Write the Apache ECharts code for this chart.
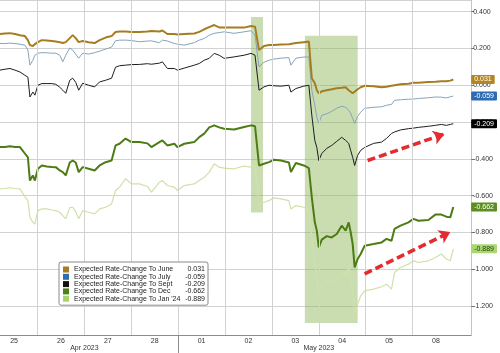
<!DOCTYPE html>
<html>
<head>
<meta charset="utf-8">
<script src="https://cdn.jsdelivr.net/npm/echarts@6/dist/echarts.min.js"></script>
<style>
html, body { margin: 0; padding: 0; background: #fff; }
#chart { width: 500px; height: 353px; }
</style>
</head>
<body>
<div id="chart"></div>
<script>
// sample times, in trading days from the start of 25 Apr
var t = [
    0.200, 0.306, 0.413, 0.519, 0.625, 0.731, 0.795, 0.838, 0.901, 0.944,
    1.008, 1.093, 1.199, 1.305, 1.390, 1.475, 1.539, 1.603, 1.688, 1.751,
    1.815, 1.879, 1.964, 2.091, 2.219, 2.325, 2.453, 2.580, 2.665, 2.750,
    2.878, 3.005, 3.175, 3.345, 3.430, 3.600, 3.664, 3.770, 3.919, 3.983,
    4.131, 4.344, 4.450, 4.556, 4.663, 4.769, 4.875, 4.981, 5.194, 5.406,
    5.555, 5.640, 5.725, 5.831, 5.938, 6.044, 6.193, 6.363, 6.405, 6.511,
    6.681, 6.788, 6.851, 6.915, 6.958, 7.000, 7.064, 7.170, 7.276, 7.383,
    7.489, 7.574, 7.638, 7.680, 7.723, 7.765, 7.829, 7.893, 7.978, 8.169,
    8.339, 8.445, 8.551, 8.615, 8.743, 8.913, 9.019, 9.125, 9.338, 9.486,
    9.614, 9.720, 9.805, 9.869
];

var june = [
    0.278, 0.281, 0.283, 0.278, 0.272, 0.267, 0.245, 0.218, 0.213, 0.223,
    0.234, 0.245, 0.243, 0.240, 0.237, 0.234, 0.229, 0.234, 0.256, 0.272,
    0.256, 0.234, 0.240, 0.234, 0.229, 0.245, 0.259, 0.267, 0.289, 0.292,
    0.292, 0.289, 0.289, 0.292, 0.294, 0.292, 0.297, 0.278, 0.278, 0.275,
    0.278, 0.281, 0.290, 0.304, 0.316, 0.327, 0.314, 0.313, 0.314, 0.313,
    0.322, 0.318, 0.191, 0.213, 0.218, 0.218, 0.221, 0.223, 0.221, 0.229,
    0.234, 0.237, 0.038, 0.011, -0.027, -0.044, -0.033, -0.027, -0.022, -0.016,
    -0.014, -0.011, -0.027, -0.033, -0.044, -0.044, -0.022, -0.011, -0.003, -0.005,
    -0.011, -0.008, -0.003, 0.000, 0.005, 0.008, 0.013, 0.014, 0.018, 0.019,
    0.022, 0.022, 0.025, 0.031
];

var july = [
    0.227, 0.226, 0.229, 0.226, 0.223, 0.218, 0.191, 0.109, 0.136, 0.163,
    0.174, 0.177, 0.176, 0.174, 0.174, 0.163, 0.127, 0.163, 0.202, 0.191,
    0.169, 0.147, 0.174, 0.169, 0.177, 0.185, 0.196, 0.207, 0.241, 0.245,
    0.245, 0.243, 0.236, 0.240, 0.241, 0.231, 0.245, 0.240, 0.227, 0.223,
    0.218, 0.231, 0.245, 0.254, 0.272, 0.282, 0.286, 0.290, 0.282, 0.290,
    0.296, 0.272, 0.100, 0.125, 0.136, 0.142, 0.147, 0.150, 0.109, 0.147,
    0.153, 0.154, -0.027, -0.109, -0.174, -0.207, -0.163, -0.155, -0.142, -0.125,
    -0.114, -0.120, -0.136, -0.153, -0.180, -0.207, -0.169, -0.147, -0.125, -0.120,
    -0.117, -0.109, -0.104, -0.082, -0.079, -0.076, -0.075, -0.072, -0.068, -0.064,
    -0.065, -0.069, -0.063, -0.059
];

var sept = [
    0.082, 0.087, 0.091, 0.082, 0.072, 0.054, 0.044, -0.064, -0.037, -0.054,
    0.000, 0.009, 0.009, 0.009, 0.005, -0.011, -0.027, -0.044, 0.027, 0.038,
    0.016, -0.027, 0.011, 0.000, -0.009, 0.018, 0.027, 0.038, 0.098, 0.106,
    0.109, 0.112, 0.113, 0.117, 0.114, 0.120, 0.127, 0.091, 0.091, 0.082,
    0.093, 0.109, 0.118, 0.136, 0.146, 0.173, 0.163, 0.146, 0.154, 0.163,
    0.173, 0.163, -0.027, -0.009, 0.000, -0.003, -0.005, 0.000, -0.037, -0.018,
    -0.005, 0.000, -0.163, -0.300, -0.338, -0.409, -0.371, -0.343, -0.327, -0.305,
    -0.283, -0.300, -0.316, -0.354, -0.392, -0.436, -0.381, -0.354, -0.338, -0.316,
    -0.309, -0.289, -0.262, -0.254, -0.243, -0.236, -0.233, -0.229, -0.223, -0.218,
    -0.213, -0.218, -0.213, -0.209
];

var dec = [
    -0.336, -0.335, -0.332, -0.335, -0.336, -0.371, -0.392, -0.518, -0.490, -0.518,
    -0.454, -0.436, -0.441, -0.444, -0.445, -0.463, -0.472, -0.490, -0.420, -0.409,
    -0.420, -0.472, -0.445, -0.454, -0.463, -0.436, -0.418, -0.409, -0.327, -0.318,
    -0.290, -0.309, -0.309, -0.316, -0.336, -0.309, -0.300, -0.327, -0.318, -0.336,
    -0.318, -0.309, -0.282, -0.263, -0.229, -0.218, -0.229, -0.236, -0.241, -0.227,
    -0.218, -0.223, -0.436, -0.427, -0.418, -0.405, -0.409, -0.420, -0.472, -0.423,
    -0.436, -0.450, -0.609, -0.745, -0.790, -0.881, -0.839, -0.820, -0.827, -0.808,
    -0.763, -0.790, -0.745, -0.799, -0.863, -0.990, -0.944, -0.917, -0.872, -0.863,
    -0.854, -0.835, -0.845, -0.781, -0.763, -0.745, -0.726, -0.736, -0.732, -0.703,
    -0.703, -0.714, -0.718, -0.662
];

var jan24 = [
    -0.563, -0.561, -0.557, -0.561, -0.563, -0.605, -0.627, -0.718, -0.745, -0.754,
    -0.681, -0.672, -0.672, -0.678, -0.681, -0.690, -0.708, -0.726, -0.665, -0.663,
    -0.687, -0.726, -0.681, -0.690, -0.699, -0.672, -0.663, -0.645, -0.572, -0.554,
    -0.508, -0.536, -0.536, -0.550, -0.581, -0.527, -0.518, -0.545, -0.554, -0.572,
    -0.545, -0.536, -0.518, -0.500, -0.472, -0.427, -0.445, -0.450, -0.454, -0.439,
    -0.445, -0.436, -0.645, -0.636, -0.627, -0.612, -0.617, -0.627, -0.672, -0.654,
    -0.663, -0.681, -0.823, -0.965, -1.035, -1.135, -1.099, -1.063, -1.072, -1.053,
    -1.008, -1.035, -0.990, -1.045, -1.117, -1.244, -1.190, -1.144, -1.117, -1.108,
    -1.095, -1.081, -1.108, -1.017, -0.990, -0.972, -0.954, -0.963, -0.954, -0.936,
    -0.917, -0.944, -0.954, -0.889
];

var seriesNames = [
    'Expected Rate-Change To June',
    'Expected Rate-Change To July',
    'Expected Rate-Change To Sept',
    'Expected Rate-Change To Dec',
    "Expected Rate-Change To Jan '24"
];
var lastValues = [0.031, -0.059, -0.209, -0.662, -0.889];

var dayCenters = [0.5, 1.5, 2.5, 3.5, 4.5, 5.5, 6.5, 7.5, 8.5, 9.5];
var dayLabels = ['25', '26', '27', '28', '01', '02', '03', '04', '05', '08'];
var dayBreaks = [1, 2, 3, 4, 5, 6, 7, 8, 9];
var monthBreaks = [4];
var monthCenters = [2, 7];
var monthLabels = ['Apr 2023', 'May 2023'];

// shaded windows: [t0, t1, top, bottom]
var shades = [
    [5.555, 5.810, 0.370, -0.692],
    [6.703, 7.829, 0.269, -1.292]
];
// red arrows: [tStart, vStart, tEnd, vEnd]
var arrows = [
    [8.041, -0.409, 9.678, -0.265],
    [7.978, -1.025, 9.805, -0.798]
];

var all = [june, july, sept, dec, jan24];
all.forEach(function (a, i) {
    if (a.length !== t.length) throw new Error('length mismatch ' + i + ': ' + a.length);
});

var lineColors = ['#a67c22', '#86a3bd', '#1e1e1e', '#4d7b14', '#cfe1a9'];
var lineWidths = [2, 1, 1, 2, 1.2];
var legendColors = ['#a87b1f', '#2d6fae', '#111111', '#4f7f17', '#a6d46b'];
var badgeColors = ['#b5851f', '#2d6bb0', '#000000', '#5b8d20', '#a9d86f'];
var badgeText = ['#fff', '#fff', '#fff', '#fff', '#2a3a10'];

var FONT = 'Liberation Sans, Arial, sans-serif';
var gridLineStyle = { color: '#d2d2d2', type: 'solid', width: 1, opacity: 1 };
var yMin = -1.357, yMax = 0.463;
var xMin = 0.2, xMax = 10.25;

function pairs(vals) {
    return t.map(function (x, i) { return [x, vals[i]]; });
}

var badgeRich = {};
badgeColors.forEach(function (c, i) {
    badgeRich['b' + i] = {
        backgroundColor: c, color: badgeText[i], fontSize: 7, fontFamily: FONT,
        padding: [1, 3, 1, 3], borderRadius: 1, lineHeight: 8
    };
});

var chart = echarts.init(document.getElementById('chart'), null, { renderer: 'canvas' });

var series = [];
// draw order: Jan '24 first, June last
[4, 3, 2, 1, 0].forEach(function (i) {
    var s = {
        name: seriesNames[i],
        type: 'line',
        data: pairs(all[i]),
        showSymbol: false,
        symbol: 'none',
        lineStyle: { color: lineColors[i], width: lineWidths[i] },
        itemStyle: { color: legendColors[i] },
        emphasis: { disabled: true },
        z: 3
    };
    if (i === 4) {
        // day separators
        s.markLine = {
            silent: true,
            symbol: ['none', 'none'],
            label: { show: false },
            emphasis: { disabled: true },
            lineStyle: gridLineStyle,
            data: dayBreaks.map(function (d) { return { xAxis: d }; })
        };
        s.markArea = {
            silent: true,
            itemStyle: { color: 'rgba(135,180,80,0.45)' },
            data: shades.map(function (r) {
                return [{ coord: [r[0], r[2]] }, { coord: [r[1], r[3]] }];
            })
        };
    }
    if (i === 3) {
        s.markLine = {
            silent: true,
            symbol: ['none', 'arrow'],
            symbolSize: [11, 11],
            label: { show: false },
            emphasis: { disabled: true },
            lineStyle: { color: '#e42b2f', type: [8, 4], width: 3.5 },
            data: arrows.map(function (a) {
                return [{ coord: [a[0], a[1]] }, { coord: [a[2], a[3]] }];
            })
        };
    }
    series.push(s);
});

chart.setOption({
    animation: false,
    backgroundColor: '#fff',
    grid: { left: 0, right: 27, top: 0, bottom: 18 },
    legend: {
        z: 20,
        orient: 'vertical',
        left: 59,
        top: 262,
        icon: 'rect',
        itemWidth: 6,
        itemHeight: 6,
        itemGap: 0.3,
        padding: [4, 3, 3, 4],
        borderColor: '#8a8a8a',
        borderWidth: 1,
        borderRadius: 2,
        backgroundColor: '#fff',
        selectedMode: false,
        data: seriesNames.map(function (n, i) {
            return { name: n, itemStyle: { color: legendColors[i] } };
        }),
        formatter: function (name) {
            var i = seriesNames.indexOf(name);
            return '{n|' + name + '}{v|' + lastValues[i].toFixed(3) + '}';
        },
        textStyle: {
            fontSize: 7, color: '#222', fontFamily: FONT,
            rich: {
                n: { width: 105, fontSize: 7, color: '#222', fontFamily: FONT, lineHeight: 8 },
                v: { width: 26, align: 'right', fontSize: 7, color: '#222', fontFamily: FONT, lineHeight: 8 }
            }
        }
    },
    xAxis: [{
        type: 'value',
        min: xMin,
        max: xMax,
        axisLine: { show: true, onZero: false, lineStyle: { color: '#8c8c8c' } },
        axisTick: { show: true, customValues: monthBreaks, length: 18, lineStyle: { color: '#8c8c8c' } },
        splitLine: { show: false },
        axisLabel: {
            customValues: dayCenters,
            margin: 3,
            fontSize: 7,
            color: '#333',
            fontFamily: FONT,
            formatter: function (v) { return dayLabels[dayCenters.indexOf(v)]; }
        }
    }, {
        type: 'value',
        min: xMin,
        max: xMax,
        position: 'bottom',
        offset: 7,
        axisLine: { show: false, onZero: false },
        axisTick: { show: false },
        splitLine: { show: false },
        axisLabel: {
            customValues: monthCenters,
            margin: 3,
            fontSize: 7,
            color: '#333',
            fontFamily: FONT,
            formatter: function (v) { return monthLabels[monthCenters.indexOf(v)]; }
        }
    }],
    yAxis: [{
        type: 'value',
        position: 'right',
        min: yMin,
        max: yMax,
        splitNumber: 9,
        axisLine: { show: true, onZero: false, lineStyle: { color: '#cdc6ae' } },
        axisTick: { show: true, length: 3, lineStyle: { color: '#777' } },
        splitLine: { show: true, lineStyle: gridLineStyle },
        axisLabel: {
            showMinLabel: false,
            showMaxLabel: false,
            margin: 2,
            fontSize: 7,
            color: '#333',
            fontFamily: FONT,
            formatter: function (v) { return v.toFixed(3); }
        }
    }, {
        type: 'value',
        position: 'right',
        min: yMin,
        max: yMax,
        z: 5,
        axisLine: { show: false, onZero: false },
        axisTick: { show: false },
        splitLine: { show: false },
        axisLabel: {
            customValues: lastValues,
            margin: 0,
            formatter: function (v) {
                var i = lastValues.indexOf(v);
                return '{b' + i + '|' + v.toFixed(3) + '}';
            },
            rich: badgeRich
        }
    }],
    series: series
});
</script>
</body>
</html>
